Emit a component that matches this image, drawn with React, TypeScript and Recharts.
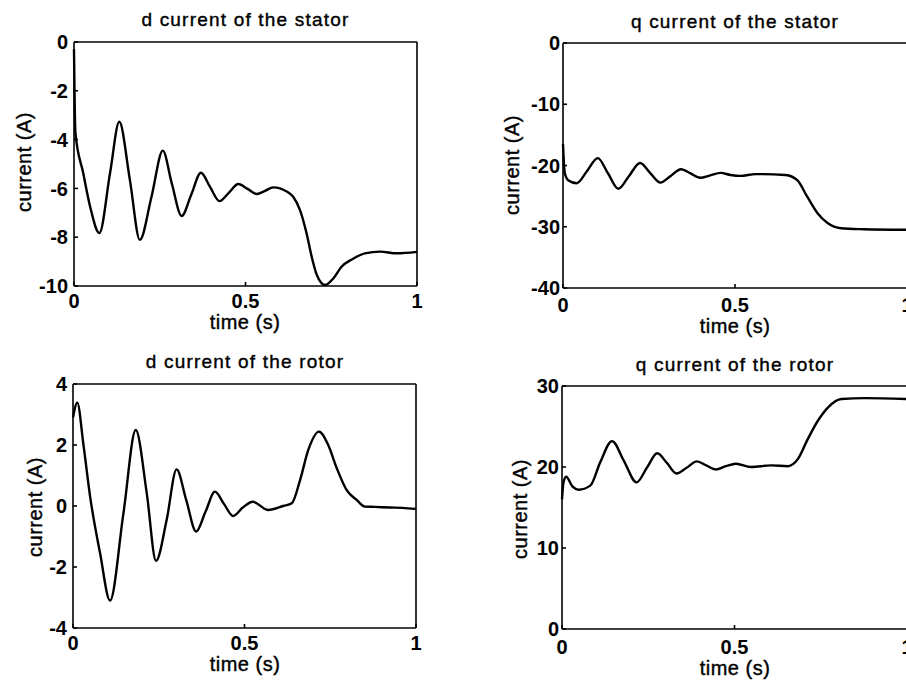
import React from "react";
import { LineChart, Line, XAxis, YAxis } from "recharts";

// time axis shared by all four panels (s)
const timeTicks = [0, 0.5, 1];

// d current of the stator
const statorDTime = [0, 0.004, 0.027, 0.047, 0.074, 0.105, 0.132, 0.163, 0.192, 0.226, 0.259, 0.285, 0.314, 0.342, 0.37, 0.397, 0.424, 0.452, 0.479, 0.506, 0.533, 0.557, 0.581, 0.62, 0.639, 0.659, 0.678, 0.693, 0.708, 0.732, 0.756, 0.78, 0.81, 0.848, 0.892, 0.941, 1.0];
const statorDCurrent = [-0.3, -3.7, -5.38, -6.75, -7.83, -5.38, -3.27, -5.66, -8.11, -6.34, -4.45, -5.79, -7.13, -6.25, -5.36, -5.95, -6.52, -6.17, -5.82, -6.02, -6.23, -6.1, -5.96, -6.13, -6.34, -6.89, -7.84, -8.8, -9.55, -9.96, -9.69, -9.21, -8.91, -8.66, -8.59, -8.66, -8.6];
const statorDTicks = [-10, -8, -6, -4, -2, 0];

// q current of the stator
const statorQTime = [0, 0.005, 0.015, 0.04, 0.07, 0.101, 0.131, 0.161, 0.192, 0.224, 0.253, 0.283, 0.313, 0.343, 0.371, 0.399, 0.428, 0.458, 0.487, 0.516, 0.56, 0.647, 0.681, 0.71, 0.74, 0.769, 0.808, 0.875, 1.0];
const statorQCurrent = [-16.5, -21.2, -22.4, -22.9, -20.9, -18.8, -21.3, -23.8, -21.7, -19.6, -21.2, -22.8, -21.7, -20.6, -21.3, -22.0, -21.6, -21.2, -21.55, -21.7, -21.4, -21.55, -22.4, -25.1, -27.8, -29.4, -30.25, -30.4, -30.5];
const statorQTicks = [-40, -30, -20, -10, 0];

// d current of the rotor
const rotorDTime = [0, 0.0125, 0.03, 0.05, 0.079, 0.108, 0.147, 0.183, 0.215, 0.242, 0.273, 0.302, 0.33, 0.359, 0.386, 0.414, 0.44, 0.467, 0.495, 0.524, 0.569, 0.613, 0.638, 0.662, 0.686, 0.717, 0.744, 0.769, 0.798, 0.827, 0.851, 0.88, 0.924, 0.96, 1.0];
const rotorDCurrent = [2.9, 3.39, 2.05, 0.3, -1.55, -3.1, -0.24, 2.49, 0.42, -1.8, -0.46, 1.2, 0.2, -0.84, -0.2, 0.47, 0.07, -0.33, -0.05, 0.14, -0.13, 0.0, 0.09, 0.85, 1.84, 2.44, 2.0, 1.24, 0.52, 0.2, -0.02, -0.03, -0.05, -0.06, -0.1];
const rotorDTicks = [-4, -2, 0, 2, 4];

// q current of the rotor
const rotorQTime = [0, 0.004, 0.012, 0.03, 0.048, 0.082, 0.111, 0.145, 0.179, 0.216, 0.246, 0.276, 0.304, 0.332, 0.361, 0.391, 0.418, 0.446, 0.475, 0.504, 0.548, 0.606, 0.655, 0.684, 0.713, 0.743, 0.772, 0.81, 0.878, 1.0];
const rotorQCurrent = [16.0, 18.0, 18.8, 17.6, 17.2, 17.7, 20.6, 23.2, 20.8, 18.1, 19.9, 21.7, 20.5, 19.2, 19.9, 20.7, 20.2, 19.7, 20.1, 20.4, 20.0, 20.2, 20.1, 21.0, 23.5, 25.8, 27.4, 28.4, 28.5, 28.4];
const rotorQTicks = [0, 10, 20, 30];

const FONT = "'Liberation Sans', Arial, Helvetica, sans-serif";

type PanelProps = {
  box: [number, number, number, number]; // plot area left, top, right, bottom
  time: number[];
  current: number[];
  domain: [number, number];
  yTicks: number[];
  yGap: number;
  xGap: number;
};

function Panel({ box, time, current, domain, yTicks, yGap, xGap }: PanelProps) {
  const data = time.map((t, i) => ({ t, v: current[i] }));
  const [x0, y0, x1, y1] = box;
  const padL = 70, padT = 10, padR = 12, padB = 40;
  const tickStyle = { fill: "#000", fontSize: 20, fontWeight: 700, fontFamily: FONT };
  const axisStroke = { stroke: "#000", strokeWidth: 1.6 };

  return (
    <div style={{ position: "absolute", left: x0 - padL, top: y0 - padT }}>
      <LineChart
        width={x1 - x0 + padL + padR}
        height={y1 - y0 + padT + padB}
        data={data}
        margin={{ top: padT - 1, right: padR - 1, left: 0, bottom: 0 }}
      >
        <XAxis
          dataKey="t"
          type="number"
          domain={[0, 1]}
          ticks={timeTicks}
          height={padB}
          tickSize={-4}
          tickMargin={xGap}
          tick={tickStyle}
          axisLine={axisStroke}
          tickLine={axisStroke}
          interval={0}
        />
        {/* top and right axes only close the box and carry the inward ticks */}
        <XAxis
          xAxisId="top"
          orientation="top"
          dataKey="t"
          type="number"
          domain={[0, 1]}
          ticks={timeTicks}
          height={1}
          tickSize={-4}
          tick={false}
          axisLine={axisStroke}
          tickLine={axisStroke}
          interval={0}
        />
        <YAxis
          type="number"
          domain={domain}
          ticks={yTicks}
          width={padL}
          tickSize={-4}
          tickMargin={yGap}
          tick={tickStyle}
          axisLine={axisStroke}
          tickLine={axisStroke}
          interval={0}
        />
        <YAxis
          yAxisId="right"
          orientation="right"
          type="number"
          domain={domain}
          ticks={yTicks}
          width={1}
          tickSize={-4}
          tick={false}
          axisLine={axisStroke}
          tickLine={axisStroke}
          interval={0}
        />
        <Line
          type="monotone"
          dataKey="v"
          stroke="#000"
          strokeWidth={2.4}
          dot={false}
          isAnimationActive={false}
        />
      </LineChart>
    </div>
  );
}

export default function App() {
  const title = { fontSize: 19, letterSpacing: 1.2, fontFamily: FONT, fill: "#000", stroke: "#000", strokeWidth: 0.4, textAnchor: "middle" as const };
  const label = { fontSize: 20, letterSpacing: 0.5, fontFamily: FONT, fill: "#000", stroke: "#000", strokeWidth: 0.4, textAnchor: "middle" as const };

  return (
    <div style={{ position: "absolute", left: 0, top: 0, width: 906, height: 685, overflow: "hidden", background: "#fff" }}>
      <Panel box={[74, 42, 417, 286]} time={statorDTime} current={statorDCurrent} domain={[-10, 0]} yTicks={statorDTicks} yGap={10} xGap={12} />
      <Panel box={[563, 43, 907, 288]} time={statorQTime} current={statorQCurrent} domain={[-40, 0]} yTicks={statorQTicks} yGap={7} xGap={14} />
      <Panel box={[73, 384, 416, 628]} time={rotorDTime} current={rotorDCurrent} domain={[-4, 4]} yTicks={rotorDTicks} yGap={10} xGap={12} />
      <Panel box={[562, 386, 907, 629]} time={rotorQTime} current={rotorQCurrent} domain={[0, 30]} yTicks={rotorQTicks} yGap={7} xGap={15} />

      <svg width={906} height={685} style={{ position: "absolute", left: 0, top: 0, pointerEvents: "none" }}>
        <text x={245.5} y={26} {...title}>d current of the stator</text>
        <text x={735} y={28} {...title}>q current of the stator</text>
        <text x={245} y={368} {...title}>d current of the rotor</text>
        <text x={735} y={371} {...title}>q current of the rotor</text>

        <text x={245} y={329} {...label}>time (s)</text>
        <text x={735} y={333} {...label}>time (s)</text>
        <text x={245} y={671} {...label}>time (s)</text>
        <text x={735} y={675} {...label}>time (s)</text>

        <text transform="translate(31,162) rotate(-90)" {...label}>current (A)</text>
        <text transform="translate(519,165) rotate(-90)" {...label}>current (A)</text>
        <text transform="translate(42,507) rotate(-90)" {...label}>current (A)</text>
        <text transform="translate(527,509) rotate(-90)" {...label}>current (A)</text>
      </svg>
    </div>
  );
}
